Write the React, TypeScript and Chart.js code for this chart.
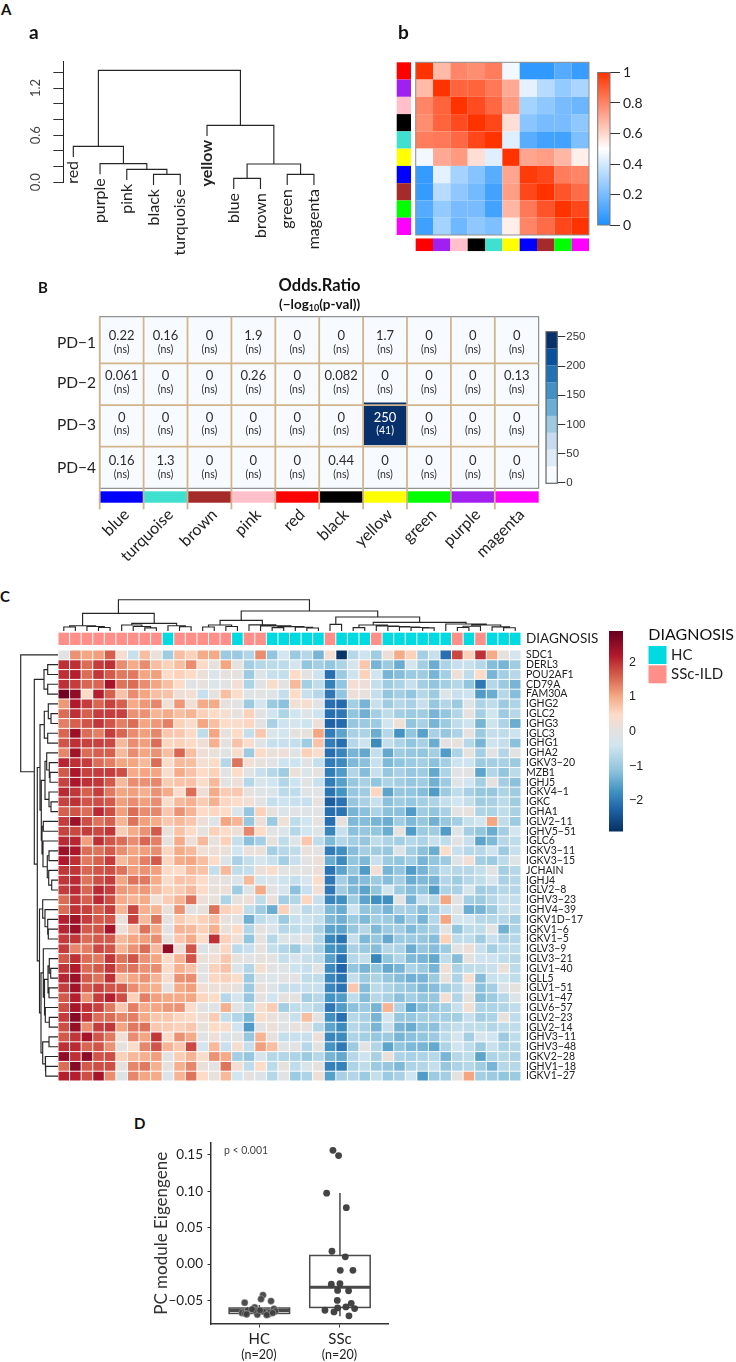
import React, { useEffect, useRef } from "react";
import { Chart, registerables } from "chart.js";

Chart.register(...registerables);

const FONT = 'Lato, "Noto Sans", sans-serif';
const HELV = '"Liberation Sans", Arial, sans-serif';
Chart.defaults.font.family = FONT;

/* ---------- panel A-a: module dendrogram ---------- */
const moduleLeaves = ["red", "purple", "pink", "black", "turquoise", "yellow", "blue", "brown", "green", "magenta"];
type Tree = number | [number, Tree, Tree];
const moduleTree: Tree = [1.425, [0.458, 1, [0.238, 2, [0.165, 3, [0.1, 4, 5]]]], [0.725, 6, [0.233, [0.05, 7, 8], [0.1, 9, 10]]]];
const moduleTicks = [0, 0.2, 0.4, 0.6, 0.8, 1.0, 1.2, 1.4];
const moduleTickLabels = [0, 0.6, 1.2];

/* ---------- panel A-b: module correlation ---------- */
const moduleColours = ["#FF0000", "#A020F0", "#FFC0CB", "#000000", "#40E0D0", "#FFFF00", "#0000FF", "#A52A2A", "#00FF00", "#FF00FF"];
const corrMatrix = [
  [1, 0.67, 0.8, 0.78, 0.82, 0.47, 0.04, 0.04, 0.12, 0.06],
  [0.67, 1, 0.88, 0.88, 0.83, 0.71, 0.44, 0.34, 0.26, 0.31],
  [0.8, 0.88, 1, 0.94, 0.87, 0.75, 0.3, 0.25, 0.2, 0.17],
  [0.78, 0.88, 0.94, 1, 0.95, 0.58, 0.24, 0.2, 0.2, 0.25],
  [0.82, 0.83, 0.87, 0.95, 1, 0.43, 0.13, 0.08, 0.08, 0.21],
  [0.47, 0.71, 0.75, 0.58, 0.43, 1, 0.72, 0.74, 0.68, 0.54],
  [0.05, 0.44, 0.3, 0.23, 0.13, 0.72, 0.98, 0.95, 0.82, 0.8],
  [0.05, 0.34, 0.25, 0.19, 0.08, 0.74, 0.95, 1, 0.92, 0.86],
  [0.12, 0.26, 0.2, 0.2, 0.08, 0.68, 0.83, 0.92, 1, 0.95],
  [0.07, 0.3, 0.18, 0.25, 0.21, 0.54, 0.8, 0.86, 0.95, 1],
];
const corrStops: [number, string][] = [[0, "#1E90FF"], [0.5, "#FFFFFF"], [1, "#FF3300"]];
const corrTicks = [0, 0.2, 0.4, 0.6, 0.8, 1];

/* ---------- panel B: odds ratio overlap ---------- */
const overlapModules = ["blue", "turquoise", "brown", "pink", "red", "black", "yellow", "green", "purple", "magenta"];
const overlapColours = ["#0000FF", "#40E0D0", "#A52A2A", "#FFC0CB", "#FF0000", "#000000", "#FFFF00", "#00FF00", "#A020F0", "#FF00FF"];
const checkpoints = ["PD−1", "PD−2", "PD−3", "PD−4"];
const oddsRatios = [
  ["0.22", "0.16", "0", "1.9", "0", "0", "1.7", "0", "0", "0"],
  ["0.061", "0", "0", "0.26", "0", "0.082", "0", "0", "0", "0.13"],
  ["0", "0", "0", "0", "0", "0", "250", "0", "0", "0"],
  ["0.16", "1.3", "0", "0", "0", "0.44", "0", "0", "0", "0"],
];
const pValues = [
  ["(ns)", "(ns)", "(ns)", "(ns)", "(ns)", "(ns)", "(ns)", "(ns)", "(ns)", "(ns)"],
  ["(ns)", "(ns)", "(ns)", "(ns)", "(ns)", "(ns)", "(ns)", "(ns)", "(ns)", "(ns)"],
  ["(ns)", "(ns)", "(ns)", "(ns)", "(ns)", "(ns)", "(41)", "(ns)", "(ns)", "(ns)"],
  ["(ns)", "(ns)", "(ns)", "(ns)", "(ns)", "(ns)", "(ns)", "(ns)", "(ns)", "(ns)"],
];
const bluesBins = ["#F7FBFF", "#DEEBF7", "#C6DBEF", "#9ECAE1", "#6BAED6", "#4292C6", "#2171B5", "#08519C", "#08306B"];
const oddsTicks = [0, 50, 100, 150, 200, 250];

/* ---------- panel C: expression heatmap ---------- */
const genes = ["SDC1", "DERL3", "POU2AF1", "CD79A", "FAM30A", "IGHG2", "IGLC2", "IGHG3", "IGLC3", "IGHG1", "IGHA2", "IGKV3−20", "MZB1", "IGHJ5", "IGKV4−1", "IGKC", "IGHA1", "IGLV2−11", "IGHV5−51", "IGLC6", "IGKV3−11", "IGKV3−15", "JCHAIN", "IGHJ4", "IGLV2−8", "IGHV3−23", "IGHV4−39", "IGKV1D−17", "IGKV1−6", "IGKV1−5", "IGLV3−9", "IGLV3−21", "IGLV1−40", "IGLL5", "IGLV1−51", "IGLV1−47", "IGLV6−57", "IGLV2−23", "IGLV2−14", "IGHV3−11", "IGHV3−48", "IGKV2−28", "IGHV1−18", "IGKV1−27"];
const diagnosis = "SSSSSSSSSHSSSSSHSSHHHHHSHHHSHHHHHHSHSHHH".split("");
const diagnosisColours: Record<string, string> = { H: "#00DAE0", S: "#FF8F88" };
const expression = [
  [0, 1.2, 1.05, 1.1, 1.6, 0.35, -0.5, 0.8, 0.15, -0.95, 0.8, 0.6, 1, 1, -1, -1, -0.75, 1.25, -1.1, -0.35, -1, -0.7, -1.3, 0.3, -2.8, -0.7, -0.45, -0.95, 0.2, 1, 0.6, -0.9, -0.5, -2.1, 1.8, 0.6, 2, 1, 0.1, -0.3],
  [2, 2, 1.5, 1.9, 2, 1.25, 1, 1.25, 0.8, 0.6, 0.8, 1.25, 0.5, 0.1, 1.05, 0.05, -0.9, -0.7, -0.65, -0.65, -0.3, -1.1, -0.9, -1.1, -0.8, -0.3, 0.7, -1.3, -1, -1.4, -0.3, -0.9, -1.4, -0.8, -0.5, -0.5, -0.7, -1.2, -1.3, -0.95],
  [2, 2.15, 1.5, 1.95, 1.65, 1.4, 1.4, 1.05, 1.1, 0.5, 0.6, 0.5, 0.15, -0.2, 0.1, 0.1, -1, -0.1, -0.5, -0.55, 0.5, 0, -0.45, -2.1, -1, -0.45, 0.6, -0.4, -1.3, -1.2, -1, -0.95, -1.3, -0.9, 0.2, -0.6, 0.5, -1.3, -0.9, -0.7],
  [2, 1.9, 1.55, 1.55, 2.3, 1.45, 1.5, 1.25, 1.05, 0.8, 0.5, -0.05, 0.1, -0.2, 0, 0.3, -0.8, -0.05, 0.4, 0, 0.85, -0.9, -0.6, -1.9, -1.1, 0.3, 0.2, -0.55, -0.95, -0.8, -0.5, -0.9, -1.1, -0.9, -0.7, -1.1, -2, -0.7, -1, -1.3],
  [2.8, 2.5, 0.5, 2.15, 1.6, 0.75, 1.25, 1.05, 0.8, 0.75, 0.2, 0.3, -0.5, 0.05, 0.8, 0.45, -0.1, 0, -0.1, -0.55, 0.5, -0.5, -0.7, -2, -1.1, 0.2, 0.1, -0.55, -1.1, -0.9, -1.1, -0.7, -1, -0.2, -0.5, -0.45, -1.6, -1.4, -0.7, -1.2],
  [1.15, 2.2, 1.9, 1.55, 1.85, 1.6, 1, 1.15, 1.3, 0.25, 1.15, 0.25, 1, 1, 0.05, 0, -1, -0.35, -1, -1.15, 0.25, 0.35, -0.05, -2.1, -2.15, -0.9, -1.3, -0.5, -0.95, -0.7, -0.85, -0.5, -1.05, -0.75, -1, -0.1, -0.8, -0.6, -1, -0.8],
  [1.5, 2, 1.6, 1.9, 1.9, 1.85, 1.2, 1.2, 0.9, 1, 0.8, 0.9, 0.6, 0.5, 0.35, 0.1, 0.6, 0, -0.4, -0.8, -0.4, -0.1, -0.45, -2.1, -2, -1.1, -1.35, -0.9, -0.6, -0.9, -1, -0.95, -1.3, -1.1, -0.75, 0.05, -0.9, -0.4, -1, -0.7],
  [1.35, 1.6, 1.7, 1.95, 1.7, 1.35, 1.5, 1.05, 1.15, 1.35, 0.6, 0.4, 1.05, 0.8, 0.5, 0.45, 0.55, 0, -0.85, -0.45, -0.3, -0.45, 0.2, -2.25, -2.15, -1.05, -1, -1, -0.4, 0.25, -1.1, -0.85, -1.3, -1, -0.6, -0.45, -1.3, -0.45, -0.8, -1.4],
  [1.55, 2.4, 1.5, 1.35, 1.9, 1.55, 1.25, 1.1, 1.3, 0.7, 0.7, 0.5, -0.6, 1.05, 0.1, 0.5, -0.55, 0.7, -0.2, -0.4, 0.05, 0.1, 1.05, -1.95, -1.5, -0.85, -0.8, -1.4, -0.7, -1.7, -1.1, -1.55, -0.85, -1.05, -0.8, 0.05, -1, -0.55, -0.6, -0.45],
  [1.7, 2, 1.85, 1.85, 1.8, 0.85, 1.25, 1.1, 1.5, 0.55, 0.6, 0.5, 0.2, 0.95, 0.05, 0.75, 0.4, -0.1, -0.5, -0.5, -0.55, -0.95, 0.75, -1.95, -2.1, -0.7, -0.45, -1.8, -0.55, -0.8, -1.1, -0.85, -1.4, 0, 0.1, -0.7, -1.3, -0.45, -0.55, -1.15],
  [1.3, 2.35, 1.5, 1.6, 1.6, 0.85, 1.25, 1.05, 1.2, 0.8, 1.55, 0.8, 0.2, 0.15, -0.05, 0.4, -1, 0.5, 0.15, 0.2, -0.1, 0.6, 0.45, -2.1, -1.85, -1.3, -1.45, -0.55, -1.45, -0.95, -1.05, -1.1, -0.9, -1.6, -0.8, 0.1, -0.9, 0, -0.75, 0],
  [2.1, 2, 1.9, 1.5, 1.35, 1.05, 1.05, 0.85, 1.5, 0.45, 0.85, 0.8, 0.3, 0.5, -0.7, 1.45, 0.3, 0.1, -0.05, -0.45, -0.45, -0.05, -0.55, -1.95, -1.8, -1.25, -1.15, -0.5, -1.25, -1.1, -1, -0.9, -1.15, -0.9, -0.45, -0.45, -1, -0.9, -0.85, -1],
  [1.65, 2.25, 1.85, 1.9, 1.9, 1.75, 1, 1.05, 1.05, 0.4, 1, 0.75, 0.5, 0.6, 0, 0.5, -0.05, -0.5, -0.7, -0.95, 0.15, -0.2, 0.1, -1.95, -1.6, -0.75, -1.2, -0.5, -1.05, -0.85, -1.05, -0.95, -1.45, -0.8, -0.05, 0, -1.5, -0.75, -1.1, -0.65],
  [1.85, 2.25, 2, 1.95, 1.65, 0.85, 1.25, 1.2, 1.3, 0.65, 0.75, 0.75, 0.45, 0.85, 0, 0.2, -0.7, -0.25, -0.4, -0.75, -0.45, -0.05, -0.5, -1.95, -1.55, -1.05, -0.85, -1.1, -0.8, -0.9, -1.05, -0.95, -1.35, -1, -0.1, -0.4, -0.9, 0.05, -0.9, -1.15],
  [2.05, 1.95, 1.6, 1.9, 1.4, 1.05, 1.1, 0.95, 1.2, 1, 0.45, 1.5, 0.2, 1, 0.65, 0.7, 0.1, -0.1, -0.2, -0.65, -0.6, -0.1, -0.05, -2.05, -1.7, -1.05, -0.95, 0.55, -1.5, -1.05, -1.1, -1.2, -1.6, -1, -0.6, -0.85, -1.05, -1.05, -0.8, -0.95],
  [1.85, 2, 1.7, 1.75, 1.65, 1.1, 1.25, 1.1, 1.25, 0.4, 0.85, 0.95, 0.65, 0.95, 0.55, 0.45, 0.25, 0, -0.55, -0.45, -0.5, -0.5, 0.1, -2.3, -2.05, -1.05, -0.85, -0.5, -1.15, -0.95, -1.05, -0.9, -0.8, -0.55, -0.4, -0.55, -0.95, -0.85, -0.65, -0.95],
  [1.6, 1.7, 1.5, 2.05, 1.75, 1.1, 1.5, 1.25, 1.3, 0.7, 1.2, 0.9, 0.5, 0.55, 0.5, -0.2, -1.05, 0.6, 0.1, -0.2, -0.05, -0.1, -0.05, -2.1, -2.05, -1.3, -1.15, -0.8, -1.15, -1.15, -1.6, -0.95, -1.1, -0.85, 0, 0.1, -0.8, -0.8, -0.6, -0.85],
  [1.9, 2.4, 1.75, 1.45, 1.6, 0.9, 1.45, 1.1, 1, 0.7, 0.85, 0.7, 0.2, -0.1, 1.05, 0.9, -1.05, 0.2, -1, 0.25, -0.6, -0.4, 0.05, -2.1, 0.1, -1.25, -1.2, -1.3, -1.4, -0.95, -1.25, -1.05, -1.35, -1.05, -0.9, -0.5, -0.4, 1.05, -0.6, -1],
  [1.85, 1.8, 1.9, 1.8, 1.95, 0.65, 1, 1.2, 1.65, 0.15, 0.75, 0.5, 0.05, 0.6, 0.5, 0.2, 1.3, 0.5, 0, -0.2, -0.7, -0.4, -0.1, -1.85, -0.5, -1.15, -1.05, -1.1, -1.4, 0.1, -1.6, -1, -0.95, -1.6, -0.1, -0.9, -1.1, -1.4, -0.9, -0.35],
  [2.05, 2.1, 1.1, 2, 1.7, 1.5, 1.25, 1.55, 1.35, 0.1, 1, 0.2, 0.85, 0.1, 0.6, -0.55, -1.15, -0.9, 0.1, -0.6, -0.1, 0.7, -0.6, -1.25, -0.75, -0.9, -1.05, -0.6, -0.8, -0.9, -0.7, -0.8, -0.5, -0.6, 0, -0.5, -1.5, -1.25, -0.7, -0.6],
  [2.4, 2.25, 1.5, 1.45, 1.65, 1.25, 1.05, 1.1, 1.25, 0.55, 1, 0.85, 0.25, 0.2, 0.15, -0.4, 0.15, 0.15, -0.9, -0.7, -0.6, 0.15, 0, -1.95, -1.75, -1.2, -0.9, -0.95, -1.05, -0.15, -0.9, -1.15, -1.4, 0.45, -0.5, -0.7, -0.7, -0.45, -1, -0.5],
  [2.2, 2, 1.4, 1.6, 1.9, 0.85, 1.1, 1.35, 1.65, 0.55, 1, 1.05, 0.8, 0.5, -0.15, -0.85, -0.55, -0.3, -0.5, -0.9, -0.5, 0, 0.2, -1.4, -1.8, -1.1, -1.25, -0.5, -1, -1.1, -0.9, -1.3, -1.1, -1, -0.1, 0.25, -0.9, -1, -0.65, -0.1],
  [1.95, 1.95, 1.55, 1.7, 1.75, 1.45, 1.1, 1.2, 1.1, 0.5, 0.5, 0.85, 0.75, -0.55, 0.85, -0.6, -0.55, 0.2, 0.4, 0, 0, 0, 0.2, -2.05, -1.5, -1.05, -1.6, 0.3, -1.3, -1.1, -1.6, -1.3, -1, -0.6, -0.7, -0.7, -0.55, 0, -0.9, -0.7],
  [1.95, 2.05, 1.45, 1.75, 1.9, 1.05, 1.45, 1.4, 1, 0.45, 0.75, 0.7, 0.5, 0.1, 0.05, -0.2, 0.85, -0.35, -0.2, -0.45, -0.55, -0.3, 0.45, -2, -0.9, -1.3, -1.2, -1, -1.2, -0.9, -1.4, -1.25, -1.3, -0.75, -0.95, -0.7, -0.6, -0.3, -0.85, -0.7],
  [1.9, 2.05, 1.55, 2.05, 1.9, 1.15, 1.1, 1.15, 0.85, 0.6, 0.65, 0.85, 0.5, 0.15, 0.2, -0.95, -0.1, 1, 0, -0.3, -1.15, -0.5, 0.3, -2, -0.95, -1.25, -1.5, -1.1, -0.4, -1, -1.2, -1.1, -1.6, -0.8, -0.85, -0.3, -0.95, -0.85, -0.7, -0.7],
  [1.5, 1.95, 1.6, 2.05, 1.75, 1, 0.9, 1, 0.25, 0.65, 0.9, 1.45, 0.2, 0.15, -0.8, 0.05, 0.2, -0.6, 0.15, -0.9, -0.75, 0.55, -0.5, -1.85, -1.75, -0.95, -1.5, -1.75, -1.75, 0, -1.3, -0.5, -0.7, 1.05, 0, -0.9, -1, -0.7, -0.5, -0.55],
  [1.5, 2, 1.85, 1.6, 1.9, 0.9, 1.8, 0.95, 0.9, 0.15, 1.2, 0, 0.1, 1.45, 0.6, 0.5, -0.6, -0.95, -1.4, 0.6, -0.2, -0.65, -0.5, -1.25, -1.4, -0.45, -1.1, -1.05, -1.3, -0.85, -0.9, -1.2, -0.9, -0.5, -0.1, -1.4, -1.3, -1, -0.55, -0.5],
  [2.15, 2.35, 1.9, 1.65, 1.7, 0.15, 1.85, 0.85, 1.45, 0.05, 0.65, 0.5, 0.6, 0.75, 0.1, 0, -1.35, -0.6, -0.45, -1, -0.5, -0.45, -0.55, -1.25, -1.35, -1, -1.25, -0.9, -1, -1.3, -0.9, -1.3, -0.7, 1.05, -0.4, -0.4, -0.7, -0.7, -0.7, -0.9],
  [2.1, 2.4, 1.65, 1.7, 2.3, 0.2, 0.75, 1.45, 1, 0, 0.9, 0.85, 0.6, 0.95, 0.15, 0.5, -0.75, 0.05, -0.2, -0.7, -0.6, -0.5, -0.8, -1.5, -1.5, -1.05, -0.7, -1.25, -1, -0.9, -1.25, -1, -0.85, 0, -1.1, -0.6, -0.6, 0, -1.35, -0.8],
  [1.9, 1.95, 1.5, 1.65, 1.65, 0.85, 1.05, 1.1, 1.25, 0.1, 0.7, 1, 0.45, 2, 0.6, 0.25, -1.1, 0.05, -0.7, -0.15, -0.2, 0, -0.7, -1.85, -2.05, -0.55, -1.25, -1.05, -1.45, -1, -1, -1.05, -1.2, 0.6, -0.6, -0.6, -0.95, -0.5, -0.8, -0.7],
  [1.9, 1.3, 1.35, 1.8, 1.7, 0.9, 1.2, 1.5, 0.85, 2.5, 0.2, 1.7, -0.15, 0.1, 0.55, -0.65, -0.5, 0.1, -0.55, -0.75, -1, -0.5, -0.8, -1.7, -1.8, -0.85, -1, -1.2, -0.7, -0.8, -1.4, -1.05, -1.2, -1, 0, 0.2, -0.5, -0.9, -0.65, -0.6],
  [1.65, 2, 1.5, 1.4, 1.95, 1.45, 1.7, 1.2, 1.05, 0.5, 0.9, 1.7, 0.15, 0.3, 0.7, 0.1, -0.05, 0.1, 0, -0.55, -0.25, -0.5, -0.6, -1.55, -2.05, -0.7, -0.55, -1.85, -1.1, -0.75, -1.25, -1.3, -1.45, -0.6, -1.2, 0.05, -0.45, -0.45, -0.6, -0.7],
  [1.95, 2.2, 1.5, 1.65, 1.95, 1.35, 1.45, 1.2, 1.25, 0.45, 0.95, 0.75, 0, 0.6, 0.75, -0.2, -0.75, 0.35, 0, -0.1, -0.45, -0.5, 0, -1.8, -2.2, -1.1, -1.3, -1.1, -1.45, -1.3, -0.8, -1, -1.3, 0.25, -0.8, -0.6, -0.6, -0.5, 0.15, -0.65],
  [2.1, 2.4, 1.65, 1.45, 2, 0.85, 1.05, 1.2, 0.9, 0.35, 1.2, 1.25, -0.05, 0.55, 0.6, 0.45, -1, -0.05, -0.2, 0, 0, -0.6, -0.6, -1.85, -2.05, -0.55, -1, -0.8, -1.05, -1.2, -1.35, -1.3, -1, 0.1, -0.8, 0.35, -1.2, -0.5, -0.45, -0.6],
  [1.9, 2.35, 1.65, 1.85, 1.7, 1.65, 1.25, 1.05, 0.95, 0.05, 1, 1.1, 0.3, 0.2, 0.2, 0.1, -1, 0.15, -0.1, -0.55, -0.5, -0.5, -0.5, -1.85, -2.05, 0.7, -1.2, -0.65, -0.8, -0.95, -1.05, -1.25, -1.2, -0.9, -0.7, -0.2, -1.15, -0.9, -0.15, 0.05],
  [1.65, 2.15, 1.2, 1.9, 2.15, 1.75, 0.6, 1.35, 1.1, 1, 1, 1.05, 0.55, 0.5, -0.7, -0.3, -1.05, 0.05, -0.4, 0.1, 0.05, -0.9, -0.7, -1.7, -1.6, -0.6, -1.2, -0.7, -0.85, -1.15, -0.9, -1.1, -1.05, 0.3, -0.75, 0.1, -1.2, -1, -0.7, -0.2],
  [1.75, 2.3, 2, 1.85, 1.4, 0.7, 1.35, 1, 1.05, 1.15, 1.2, 0.45, 0, -0.1, 0.95, 0, -0.6, 0.4, 0.65, -0.9, -0.6, -0.55, -0.7, -2, -1.6, -1.15, -1, -1.3, 0.9, -0.8, -1.5, -1.2, -1.05, -0.9, -0.5, 0.25, -0.8, -0.8, -0.75, -0.6],
  [1.9, 2.6, 2, 1.5, 1.5, 1.3, 1.35, 1, 0.7, 0.7, 0.55, 0.5, 0.2, 0.65, -0.55, -0.75, -1.25, 0.45, 0.15, -0.05, -0.5, 0.8, 0, -1.75, -2.1, -0.7, -0.85, -1.3, -0.35, -1.05, -1.05, -0.9, -0.9, -0.9, -0.9, -0.5, -0.9, -0.8, 0.1, -0.6],
  [1.75, 2.45, 1.25, 1.9, 1.95, 1.05, 1.4, 1.45, 0.7, 0.65, 0.6, 0.7, 0.1, 0.5, 0.4, -0.4, -1.6, -0.05, 0.2, -0.1, 0.1, 0.1, -0.7, -1.5, -1.8, -0.7, -0.85, -1.3, -0.5, -1.3, -1.4, -1.1, -1.15, -0.7, -0.55, -0.6, -0.6, -0.75, -0.65, -0.6],
  [1.65, 1.95, 2.3, 1.7, 1.4, 0.25, 1.25, 1.05, 1.95, 0.45, 1.2, 1, -0.05, 0.2, -0.2, 0, -1.05, 0.9, 0.1, -0.55, -0.5, -0.5, 0.2, -1.85, -1.8, -0.8, -0.9, -1.05, -1, -1.3, -1.15, -1.1, -1, -0.65, -0.3, -0.9, -0.25, -0.4, -1, -0.6],
  [2, 2.05, 1.55, 1.7, 1.2, 0.05, 0.45, 1.3, 1.7, 0.9, 0.7, 1.8, -0.35, 0.85, -0.5, 0.35, -0.55, 1.1, 0.8, -0.1, 0, -0.7, 0, -1.7, -2, -1, 0, -0.75, -1.5, -1.1, -1.25, -1.3, -1.45, -0.8, -0.4, -0.6, -1, -0.5, -0.8, -0.7],
  [2.5, 2, 2.55, 1.7, 1.75, 0.6, 0.85, 0.95, 1.1, 0, 0.65, 0.9, 0.4, 1.2, 1, -0.9, -1.05, -0.25, -0.7, -0.75, -0.8, -1, -0.7, -1.3, -1.45, -0.7, -0.45, -0.85, 0.15, -0.8, -0.85, -0.8, -0.7, -1.3, -0.7, -0.6, -1.5, -0.8, -0.7, -0.8],
  [1.5, 2.6, 1.65, 1.75, 1.75, 0.1, 1.3, 1.4, 0.95, 0.05, 0.95, 1.3, 0.15, 0, 1.45, 0.3, -0.6, 0.5, -0.65, 0.1, -0.6, -0.2, 0.1, -1.9, -1.9, -0.8, -0.6, -1, -1.05, -1.25, -0.8, -0.75, -0.55, -1.05, -0.8, -0.7, -0.95, -1.3, -0.7, -0.7],
  [2.15, 2.15, 1.75, 2.3, 1.25, -0.15, 1.3, 1.05, 1, -0.2, 0.9, 1.45, 0.5, 0.1, 0.85, -0.4, 0.05, -0.15, -0.7, -0.05, -1, -0.8, 0.2, -1.55, -0.85, -0.75, -1, -0.55, -1, -0.85, -0.4, -1.6, -1, -0.9, 0.05, 1.05, -0.9, -1, -1.1, -1],
];
const rdbuStops: [number, string][] = [
  [-2.88, "#053061"], [-2.2, "#2166AC"], [-1.7, "#4393C3"], [-1.1, "#92C5DE"], [-0.4, "#D1E5F0"], [0, "#E2E2E2"],
  [0.5, "#FDDBC7"], [1.05, "#F4A582"], [1.6, "#D6604D"], [2.2, "#B2182B"], [2.88, "#67001F"],
];
const expressionTicks = [-2, -1, 0, 1, 2];
const sampleTree: Tree = [31.3,
  [17.7,
    [5.3, [4, 1, 2], [4.5, 3, [3.5, 4, 5]]],
    [7.7, [6, 6, [4.5, 7, [3.2, 8, 9]]], [5.3, 10, [4.3, 11, 12]]]],
  [20,
    [10.7,
      [6, [4, 13, 14], [4.5, 15, 16]],
      [6.2, 17, [5.2, 18, [4.4, [3.4, 19, 20], [3.8, 21, [3, 22, 23]]]]]],
    [14,
      [6.7, 24, 25],
      [8.7,
        [6, [3.4, 26, 27], [5, 28, [4.5, 29, [4, 30, [3.5, 31, [3.2, 32, 33]]]]]],
        [7, 34, [6, [4.8, [3.5, 35, 36], 37], [4.2, 38, [3.3, 39, 40]]]]]]]];
const geneTree: Tree = [37.3, 1,
  [23.7,
    [14, [10.3, 2, 3], [10.3, 4, 5]],
    [20.7,
      [18,
        [13.7, [9.7, 6, [7, 7, 8]], [10.3, 9, 10]],
        [16.7,
          [13, [11.3, 11, [8.7, 12, [8, 13, 14]]], [9, 15, [7, 16, 17]]],
          [16, [14.7, 18, 19], [15, 20, [10.7, [9, 21, 22], [9.3, 23, [6.3, 24, 25]]]]]]],
      [18.5,
        [15.3, 26, [13, 27, [10.3, 28, [9.7, 29, 30]]]],
        [17,
          [14.7, 31, [13.5, [10, [8.7, 32, [7.3, 33, 34]], [9, 35, 36]], [12.7, 37, [8.7, 38, 39]]]],
          [15.3, [9, 40, 41], [12.7, 42, [12.3, 43, 44]]]]]]]];

/* ---------- panel D: eigengene box plot ---------- */
const groupNames = ["HC", "SSc"];
const groupSizes = ["(n=20)", "(n=20)"];
const hcX = [0.818, 1.045, 1.021, 1.145, 0.942, 0.855, 0.785, 0.822, 0.843, 0.975, 0.938, 1.05, 1.112, 1.132, 1.182, 1.198, 1.165, 1.091, 0.909, 1.008];
const hcY = [-0.0529, -0.0425, -0.048, -0.0507, -0.0593, -0.0634, -0.067, -0.0679, -0.0688, -0.0692, -0.0634, -0.0652, -0.0688, -0.0665, -0.0615, -0.0647, -0.067, -0.0697, -0.062, -0.0634];
const sscX = [1.913, 1.983, 1.835, 2.079, 1.901, 2.066, 2.004, 2.161, 1.893, 2.0, 1.971, 2.107, 1.967, 2.14, 2.074, 1.971, 2.182, 1.814, 1.926, 2.112];
const sscY = [0.1561, 0.1489, 0.0973, 0.0774, 0.0176, 0.01, -0.0086, -0.0086, -0.0276, -0.0267, -0.0362, -0.0367, -0.0498, -0.0538, -0.0588, -0.0602, -0.0611, -0.0633, -0.0656, -0.071];
const boxQ1 = [-0.0677, -0.0595];
const boxMedian = [-0.0637, -0.0318];
const boxQ3 = [-0.0603, 0.0118];
const whiskerLow = [-0.071, -0.0715];
const whiskerHigh = [-0.056, 0.0975];
const eigenTicks = [-0.05, 0, 0.05, 0.1, 0.15];

/* ---------- helpers ---------- */
type Box = { x: number; y: number; w: number; h: number };

function hexRgb(h: string) {
  return [parseInt(h.slice(1, 3), 16), parseInt(h.slice(3, 5), 16), parseInt(h.slice(5, 7), 16)];
}
function ramp(stops: [number, string][], v: number) {
  if (v <= stops[0][0]) return stops[0][1];
  for (let i = 1; i < stops.length; i++) {
    if (v <= stops[i][0]) {
      const t = (v - stops[i - 1][0]) / (stops[i][0] - stops[i - 1][0]);
      const a = hexRgb(stops[i - 1][1]);
      const b = hexRgb(stops[i][1]);
      return `rgb(${a.map((c, k) => Math.round(c + (b[k] - c) * t)).join(",")})`;
    }
  }
  return stops[stops.length - 1][1];
}
function text(ctx: any, s: string, x: number, y: number, font: string, color = "#222", align = "left", rot = 0, baseline = "middle") {
  ctx.save();
  ctx.translate(x, y);
  if (rot) ctx.rotate(rot);
  ctx.font = font;
  ctx.fillStyle = color;
  ctx.textAlign = align;
  ctx.textBaseline = baseline;
  ctx.fillText(s, 0, 0);
  ctx.restore();
}
function grid(rows: any[][]) {
  const out: any[] = [];
  rows.forEach((r, i) => r.forEach((v, j) => out.push({ x: j + 0.5, y: i + 0.5, v })));
  return out;
}
function treeLines(tree: Tree, horizontal: boolean, hang: number | null = null) {
  const pts: any[] = [];
  const leafEnds: Record<number, number> = {};
  const pt = (pos: number, h: number) => (horizontal ? { x: pos, y: h } : { x: h, y: pos });
  const walk = (n: Tree, parentH: number): { pos: number; h: number } => {
    if (typeof n === "number") {
      const h = hang === null ? 0 : parentH - hang;
      leafEnds[n] = h;
      return { pos: n, h };
    }
    const a = walk(n[1], n[0]);
    const b = walk(n[2], n[0]);
    pts.push(pt(a.pos, a.h), pt(a.pos, n[0]), pt(b.pos, n[0]), pt(b.pos, b.h), { x: NaN, y: NaN });
    return { pos: (a.pos + b.pos) / 2, h: n[0] };
  };
  walk(tree, 0);
  return { pts, leafEnds };
}
const lineSet = (data: any[], color = "#262626", width = 1.15) => ({
  data, showLine: true, pointRadius: 0, borderColor: color, borderWidth: width, spanGaps: false, clip: false as any,
});
function baseOptions(box: Box, pad: { l: number; t: number; r: number; b: number }, scales: any) {
  return {
    responsive: false,
    animation: false,
    devicePixelRatio: 1,
    events: [],
    layout: { padding: { left: pad.l - box.x, top: pad.t - box.y, right: box.x + box.w - pad.r, bottom: box.y + box.h - pad.b } },
    plugins: { legend: { display: false }, tooltip: { enabled: false }, title: { display: false } },
    scales,
  };
}
const hidden = (min: number, max: number, reverse = false) => ({ type: "linear", display: false, min, max, reverse });
const fixedTicks = (values: number[]) => (s: any) => { s.ticks = values.map((value) => ({ value })); };

/* ---------- chart configurations ---------- */
function dendrogramA(box: Box) {
  const { pts, leafEnds } = treeLines(moduleTree, true, 0.135);
  return {
    type: "scatter",
    data: { datasets: [lineSet(pts)] },
    options: baseOptions(box, { l: 0, t: 61.7, r: 380, b: 182.3 }, {
      x: hidden(0.626, 12.47),
      y: {
        type: "linear", min: 0, max: 1.535, position: "left",
        afterBuildTicks: fixedTicks(moduleTicks),
        afterFit: (s: any) => { s.width = 63.3; },
        border: { display: true, color: "#222", width: 1 },
        grid: { drawOnChartArea: false, drawTicks: true, tickLength: 10, color: "#333" },
        ticks: {
          autoSkip: false, minRotation: 90, maxRotation: 90, crossAlign: "center", padding: 8, color: "#444",
          font: { size: 13, family: FONT },
          callback: (v: number) => (moduleTickLabels.some((t) => Math.abs(t - v) < 1e-6) ? v.toFixed(1) : ""),
        },
      },
    }),
    plugins: [{
      id: "leafLabels",
      afterDatasetsDraw(c: any) {
        const { x, y } = c.scales;
        moduleLeaves.forEach((name, i) => {
          const bold = name === "yellow";
          text(c.ctx, name, x.getPixelForValue(i + 1), y.getPixelForValue(leafEnds[i + 1]) + 4,
            `${bold ? "bold " : ""}16px ${FONT}`, "#222", "right", -Math.PI / 2);
        });
      },
    }],
  };
}

function correlationB(box: Box) {
  return {
    type: "scatter",
    data: { datasets: [{ data: grid(corrMatrix), pointRadius: 0 }] },
    options: baseOptions(box, { l: 415.7, t: 62.3, r: 589, b: 235 }, { x: hidden(0, 10), y: hidden(0, 10, true) }),
    plugins: [{
      id: "corrCells",
      beforeDatasetsDraw(c: any) {
        const { x, y } = c.scales;
        const ctx = c.ctx;
        c.data.datasets[0].data.forEach((d: any) => {
          ctx.fillStyle = ramp(corrStops, d.v);
          const x0 = x.getPixelForValue(d.x - 0.5), y0 = y.getPixelForValue(d.y - 0.5);
          ctx.fillRect(x0, y0, x.getPixelForValue(d.x + 0.5) - x0, y.getPixelForValue(d.y + 0.5) - y0);
        });
        moduleColours.forEach((col, i) => {
          ctx.fillStyle = col;
          const a = x.getPixelForValue(i), b = x.getPixelForValue(i + 1);
          const t = y.getPixelForValue(i), u = y.getPixelForValue(i + 1);
          ctx.fillRect(x.getPixelForValue(-1.096), t, x.getPixelForValue(-0.27) - x.getPixelForValue(-1.096), u - t);
          ctx.fillRect(a, y.getPixelForValue(10.2), b - a, y.getPixelForValue(10.93) - y.getPixelForValue(10.2));
        });
        const A = c.chartArea;
        ctx.strokeStyle = "#8f8f8f";
        ctx.lineWidth = 1;
        ctx.strokeRect(A.left, A.top, A.right - A.left, A.bottom - A.top);
      },
    }],
  };
}

function colourBar(box: Box, plot: any, min: number, max: number, ticks: number[], opts: any, paint: (c: any) => void) {
  return {
    type: "scatter",
    data: { datasets: [{ data: ticks.map((t) => ({ x: 0, y: t })), pointRadius: 0 }] },
    options: baseOptions(box, { l: plot.l, t: plot.t, r: box.x + box.w, b: plot.b }, {
      x: hidden(0, 1),
      y: {
        type: "linear", position: "right", min, max,
        afterBuildTicks: fixedTicks(ticks),
        afterFit: (s: any) => { s.width = box.x + box.w - plot.r; },
        border: { display: false },
        grid: { drawOnChartArea: false, drawTicks: opts.tickLength > 0, tickLength: opts.tickLength, color: "#333" },
        ticks: {
          autoSkip: false, padding: opts.padding, color: opts.color, font: opts.font,
          callback: (v: number) => opts.format(v),
        },
      },
    }),
    plugins: [{ id: "barFill", beforeDatasetsDraw: paint }],
  };
}

function corrBar(box: Box) {
  return colourBar(box, { l: 597.7, t: 72.5, r: 610, b: 225 }, 0, 1, corrTicks,
    { tickLength: 10, padding: 3, color: "#222", font: { size: 14, family: FONT }, format: (v: number) => String(v) },
    (c: any) => {
      const { y } = c.scales;
      const A = c.chartArea;
      const g = c.ctx.createLinearGradient(0, y.getPixelForValue(0), 0, y.getPixelForValue(1));
      corrStops.forEach(([v, col]) => g.addColorStop(v, col));
      c.ctx.fillStyle = g;
      c.ctx.fillRect(A.left, A.top, A.right - A.left, A.bottom - A.top);
      c.ctx.strokeStyle = "#777";
      c.ctx.strokeRect(A.left, A.top, A.right - A.left, A.bottom - A.top);
    });
}

function oddsBar(box: Box) {
  return colourBar(box, { l: 546, t: 331.7, r: 557.3, b: 483.3 }, -1, 259, oddsTicks,
    { tickLength: 8, padding: 1, color: "#333", font: { size: 11.5, family: HELV }, format: (v: number) => String(v) },
    (c: any) => {
      const { y } = c.scales;
      const A = c.chartArea;
      const step = 260 / bluesBins.length;
      bluesBins.forEach((col, i) => {
        c.ctx.fillStyle = col;
        const b = y.getPixelForValue(-1 + i * step), t = y.getPixelForValue(-1 + (i + 1) * step);
        c.ctx.fillRect(A.left, t, A.right - A.left, b - t);
      });
      c.ctx.strokeStyle = "#666";
      c.ctx.lineWidth = 1.2;
      c.ctx.strokeRect(A.left, A.top, A.right - A.left, A.bottom - A.top);
    });
}

function expressionBar(box: Box) {
  return colourBar(box, { l: 609, t: 631, r: 623, b: 832 }, -2.88, 2.9, expressionTicks,
    { tickLength: 0, padding: 6, color: "#222", font: { size: 12.5, family: HELV }, format: (v: number) => String(v).replace("-", "−") },
    (c: any) => {
      const { y } = c.scales;
      const A = c.chartArea;
      const y0 = y.getPixelForValue(-2.88), y1 = y.getPixelForValue(2.88);
      const g = c.ctx.createLinearGradient(0, y0, 0, y1);
      rdbuStops.forEach(([v, col]) => g.addColorStop((v + 2.88) / 5.76, col));
      c.ctx.fillStyle = g;
      c.ctx.fillRect(A.left, A.top, A.right - A.left, A.bottom - A.top);
    });
}

function overlapGrid(box: Box) {
  const rowLines = [1.086, 2.06, 3.03];
  const textRows = [0.603, 1.536, 2.503, 3.517];
  const ox = box.x, oy = box.y;
  return {
    type: "scatter",
    data: { datasets: [{ data: grid(oddsRatios), pointRadius: 0 }] },
    options: baseOptions(box, { l: 99.7, t: 316.7, r: 538.7, b: 488.3 }, { x: hidden(0, 10), y: hidden(0, 4, true) }),
    plugins: [{
      id: "overlap",
      beforeDatasetsDraw(c: any) {
        const { x, y } = c.scales;
        const ctx = c.ctx;
        const A = c.chartArea;
        c.data.datasets[0].data.forEach((d: any) => {
          const v = parseFloat(d.v);
          const idx = Math.min(bluesBins.length - 1, Math.floor((v / 250) * (bluesBins.length - 1) + 0.001));
          ctx.fillStyle = bluesBins[idx];
          const x0 = x.getPixelForValue(d.x - 0.5), y0 = y.getPixelForValue(d.y - 0.5);
          ctx.fillRect(x0, y0, x.getPixelForValue(d.x + 0.5) - x0, y.getPixelForValue(d.y + 0.5) - y0);
        });
        ctx.strokeStyle = "#777";
        ctx.lineWidth = 1;
        ctx.strokeRect(A.left, A.top, A.right - A.left, A.bottom - A.top);
        overlapColours.forEach((col, i) => {
          ctx.fillStyle = col;
          const t = y.getPixelForValue(4.07);
          ctx.fillRect(x.getPixelForValue(i), t, x.getPixelForValue(i + 1) - x.getPixelForValue(i), y.getPixelForValue(4.336) - t);
        });
        ctx.strokeStyle = "#D2B48C";
        ctx.lineWidth = 1.8;
        rowLines.forEach((r) => {
          ctx.beginPath();
          ctx.moveTo(A.left, y.getPixelForValue(r));
          ctx.lineTo(A.right, y.getPixelForValue(r));
          ctx.stroke();
        });
        for (let i = 0; i < 10; i++) {
          ctx.beginPath();
          ctx.moveTo(x.getPixelForValue(i), A.top);
          ctx.lineTo(x.getPixelForValue(i), y.getPixelForValue(4.49));
          ctx.stroke();
        }
      },
      afterDatasetsDraw(c: any) {
        const { x, y } = c.scales;
        const ctx = c.ctx;
        c.data.datasets[0].data.forEach((d: any) => {
          const r = Math.floor(d.y), q = Math.floor(d.x);
          const col = d.v === "250" ? "#fff" : "#2b2b2b";
          const py = y.getPixelForValue(textRows[r]);
          text(ctx, d.v, x.getPixelForValue(d.x), py - 6.3, `13px ${FONT}`, col, "center");
          text(ctx, pValues[r][q], x.getPixelForValue(d.x), py + 6.7, `10.5px ${FONT}`, col, "center");
        });
        checkpoints.forEach((name, r) => {
          text(ctx, name, 96 - ox, y.getPixelForValue(textRows[r]) + 0.5, `15.5px ${FONT}`, "#222", "right");
        });
        overlapModules.forEach((name, i) => {
          text(ctx, name, x.getPixelForValue(i + 0.5) + 5, 512 - oy, `16px ${FONT}`, "#222", "right", -Math.PI / 4);
        });
        text(ctx, "Odds.Ratio", 319.6 - ox, 286 - oy, `bold 16.5px ${FONT}`, "#111", "center");
        const parts: [string, number][] = [["(−log", 13.5], ["10", 9], ["(p-val))", 13.5]];
        let w = 0;
        parts.forEach(([s, size]) => { ctx.font = `bold ${size}px ${FONT}`; w += ctx.measureText(s).width; });
        let px = 319.6 - ox - w / 2;
        parts.forEach(([s, size]) => {
          ctx.font = `bold ${size}px ${FONT}`;
          const sw = ctx.measureText(s).width;
          text(ctx, s, px, (size === 9 ? 308 : 304.5) - oy, `bold ${size}px ${FONT}`, "#111");
          px += sw;
        });
      },
    }],
  };
}

function sampleDendrogram(box: Box) {
  return {
    type: "scatter",
    data: { datasets: [lineSet(treeLines(sampleTree, true).pts)] },
    options: baseOptions(box, { l: box.x, t: box.y, r: box.x + box.w, b: box.y + box.h }, { x: hidden(0.5, 40.5), y: hidden(0, box.h) }),
  };
}
function geneDendrogram(box: Box) {
  return {
    type: "scatter",
    data: { datasets: [lineSet(treeLines(geneTree, false).pts)] },
    options: baseOptions(box, { l: box.x, t: box.y, r: box.x + box.w, b: box.y + box.h }, { x: hidden(0, box.w, true), y: hidden(0.5, 44.5, true) }),
  };
}

function expressionHeat(box: Box) {
  const ox = box.x;
  return {
    type: "scatter",
    data: { datasets: [{ data: grid(expression), pointRadius: 0 }] },
    options: baseOptions(box, { l: 58, t: 650, r: 521, b: 1081 }, { x: hidden(0, 40), y: hidden(0, 44, true) }),
    plugins: [{
      id: "heat",
      beforeDatasetsDraw(c: any) {
        const { x, y } = c.scales;
        const ctx = c.ctx;
        const g = 0.5;
        c.data.datasets[0].data.forEach((d: any) => {
          ctx.fillStyle = ramp(rdbuStops, d.v);
          const x0 = x.getPixelForValue(d.x - 0.5), x1 = x.getPixelForValue(d.x + 0.5);
          const y0 = y.getPixelForValue(d.y - 0.5), y1 = y.getPixelForValue(d.y + 0.5);
          ctx.fillRect(x0 + g, y0 + g, x1 - x0 - 2 * g, y1 - y0 - 2 * g);
        });
        diagnosis.forEach((k, j) => {
          ctx.fillStyle = diagnosisColours[k];
          const x0 = x.getPixelForValue(j), x1 = x.getPixelForValue(j + 1);
          const y0 = y.getPixelForValue(-1.77), y1 = y.getPixelForValue(-0.51);
          ctx.fillRect(x0 + g, y0, x1 - x0 - 2 * g, y1 - y0);
        });
      },
      afterDatasetsDraw(c: any) {
        const { y } = c.scales;
        const ctx = c.ctx;
        genes.forEach((name, i) => text(ctx, name, 526 - ox, y.getPixelForValue(i + 0.5), `10.5px ${FONT}`, "#222"));
        text(ctx, "DIAGNOSIS", 526 - ox, y.getPixelForValue(-1.14), `13.5px ${FONT}`, "#222");
      },
    }],
  };
}

function diagnosisLegend(box: Box) {
  const names = ["HC", "SSc-ILD"];
  const keys = ["H", "S"];
  return {
    type: "scatter",
    data: { datasets: [{ data: [], pointRadius: 0 }] },
    options: baseOptions(box, { l: box.x, t: box.y, r: box.x + box.w, b: box.y + box.h }, { x: hidden(0, 1), y: hidden(0, 1) }),
    plugins: [{
      id: "legendKey",
      afterDatasetsDraw(c: any) {
        const ctx = c.ctx;
        text(ctx, "DIAGNOSIS", 648.3 - box.x, 635 - box.y, `16px ${FONT}`, "#111");
        names.forEach((n, i) => {
          ctx.fillStyle = diagnosisColours[keys[i]];
          ctx.fillRect(648.5 - box.x, 646 - box.y + i * 19.3, 18, 18);
          text(ctx, n, 671 - box.x, 655 - box.y + i * 19.3, `15px ${FONT}`, "#222");
        });
      },
    }],
  };
}

function eigenBox(box: Box) {
  return {
    type: "scatter",
    data: {
      datasets: [
        { data: hcX.map((x, i) => ({ x, y: hcY[i] })), pointRadius: 3.4, backgroundColor: "rgba(62,62,62,.92)", borderColor: "rgba(190,190,190,.7)", borderWidth: 0.7, clip: false as any },
        { data: sscX.map((x, i) => ({ x, y: sscY[i] })), pointRadius: 3.4, backgroundColor: "rgba(62,62,62,.97)", borderColor: "rgba(62,62,62,.97)", borderWidth: 0, clip: false as any },
      ],
    },
    options: baseOptions(box, { l: box.x, t: 1140.7, r: 388.3, b: box.y + box.h }, {
      x: {
        type: "linear", min: 0.4, max: 2.6, position: "bottom",
        afterBuildTicks: fixedTicks([1, 2]),
        afterFit: (s: any) => { s.height = box.y + box.h - 1324; },
        border: { display: true, color: "#333", width: 1.5 },
        grid: { drawOnChartArea: false, drawTicks: true, tickLength: 3.5, color: "#333" },
        ticks: { autoSkip: false, padding: 3, color: "#222", font: { size: 15, family: FONT }, maxRotation: 0, callback: (v: number) => groupNames[v - 1] },
      },
      y: {
        type: "linear", min: -0.0822, max: 0.1667, position: "left",
        afterBuildTicks: fixedTicks(eigenTicks),
        afterFit: (s: any) => { s.width = 211 - box.x; },
        border: { display: true, color: "#333", width: 1.5 },
        grid: { drawOnChartArea: false, drawTicks: true, tickLength: 3.5, color: "#333" },
        title: { display: true, text: "PC module Eigengene", color: "#333", font: { size: 17, family: FONT }, padding: { top: 1, bottom: 0 } },
        ticks: { autoSkip: false, padding: 4.5, color: "#222", font: { size: 13.5, family: FONT }, callback: (v: number) => v.toFixed(2).replace("-", "−") },
      },
    }),
    plugins: [{
      id: "boxes",
      beforeDatasetsDraw(c: any) {
        const { x, y } = c.scales;
        const ctx = c.ctx;
        ctx.strokeStyle = "#4a4a4a";
        groupNames.forEach((_, i) => {
          const cx = x.getPixelForValue(i + 1);
          const a = x.getPixelForValue(i + 1 - 0.375), b = x.getPixelForValue(i + 1 + 0.375);
          ctx.lineWidth = 1.5;
          ctx.beginPath();
          ctx.moveTo(cx, y.getPixelForValue(whiskerHigh[i]));
          ctx.lineTo(cx, y.getPixelForValue(boxQ3[i]));
          ctx.moveTo(cx, y.getPixelForValue(boxQ1[i]));
          ctx.lineTo(cx, y.getPixelForValue(whiskerLow[i]));
          ctx.stroke();
          ctx.strokeRect(a, y.getPixelForValue(boxQ3[i]), b - a, y.getPixelForValue(boxQ1[i]) - y.getPixelForValue(boxQ3[i]));
          ctx.lineWidth = 3;
          ctx.beginPath();
          ctx.moveTo(a, y.getPixelForValue(boxMedian[i]));
          ctx.lineTo(b, y.getPixelForValue(boxMedian[i]));
          ctx.stroke();
        });
      },
      afterDatasetsDraw(c: any) {
        const { x, y } = c.scales;
        groupSizes.forEach((s, i) => text(c.ctx, s, x.getPixelForValue(i + 1) - 0.5, 1355 - box.y, `12.5px ${FONT}`, "#222", "center"));
        text(c.ctx, "p < 0.001", x.getPixelForValue(0.56), y.getPixelForValue(0.1555), `10.5px ${FONT}`, "#444");
      },
    }],
  };
}

const PANELS: { box: Box; make: (b: Box) => any }[] = [
  { box: { x: 0, y: 20, w: 380, h: 250 }, make: dendrogramA },
  { box: { x: 390, y: 55, w: 205, h: 200 }, make: correlationB },
  { box: { x: 590, y: 50, w: 60, h: 195 }, make: corrBar },
  { box: { x: 40, y: 275, w: 505, h: 295 }, make: overlapGrid },
  { box: { x: 540, y: 310, w: 56, h: 185 }, make: oddsBar },
  { box: { x: 58, y: 595, w: 463, h: 36 }, make: sampleDendrogram },
  { box: { x: 15, y: 650, w: 43, h: 431 }, make: geneDendrogram },
  { box: { x: 50, y: 630, w: 560, h: 460 }, make: expressionHeat },
  { box: { x: 603, y: 615, w: 60, h: 230 }, make: expressionBar },
  { box: { x: 640, y: 622, w: 96, h: 70 }, make: diagnosisLegend },
  { box: { x: 150, y: 1130, w: 250, h: 232 }, make: eigenBox },
];

const LETTERS: [string, number, number, number][] = [
  ["A", 1, 9, 15], ["a", 29, 31, 19], ["b", 398, 31, 19], ["B", 38, 287, 15], ["C", 0, 596, 15], ["D", 134, 1123, 15],
];

export default function App() {
  const refs = useRef<(HTMLCanvasElement | null)[]>([]);
  useEffect(() => {
    const charts = PANELS.map((p, i) => new Chart(refs.current[i] as any, p.make(p.box)));
    return () => charts.forEach((c) => c.destroy());
  }, []);
  return (
    <div style={{ position: "absolute", left: 0, top: 0, width: 736, height: 1362, overflow: "hidden", background: "#fff" }}>
      {PANELS.map((p, i) => (
        <canvas
          key={i}
          ref={(el) => { refs.current[i] = el; }}
          width={p.box.w}
          height={p.box.h}
          style={{ position: "absolute", left: p.box.x, top: p.box.y, width: p.box.w, height: p.box.h, display: "block" }}
        />
      ))}
      {LETTERS.map(([s, x, y, size]) => (
        <div key={s} style={{ position: "absolute", left: x, top: y, transform: "translateY(-50%)", font: `bold ${size}px ${FONT}`, color: "#111", lineHeight: 1 }}>{s}</div>
      ))}
    </div>
  );
}
